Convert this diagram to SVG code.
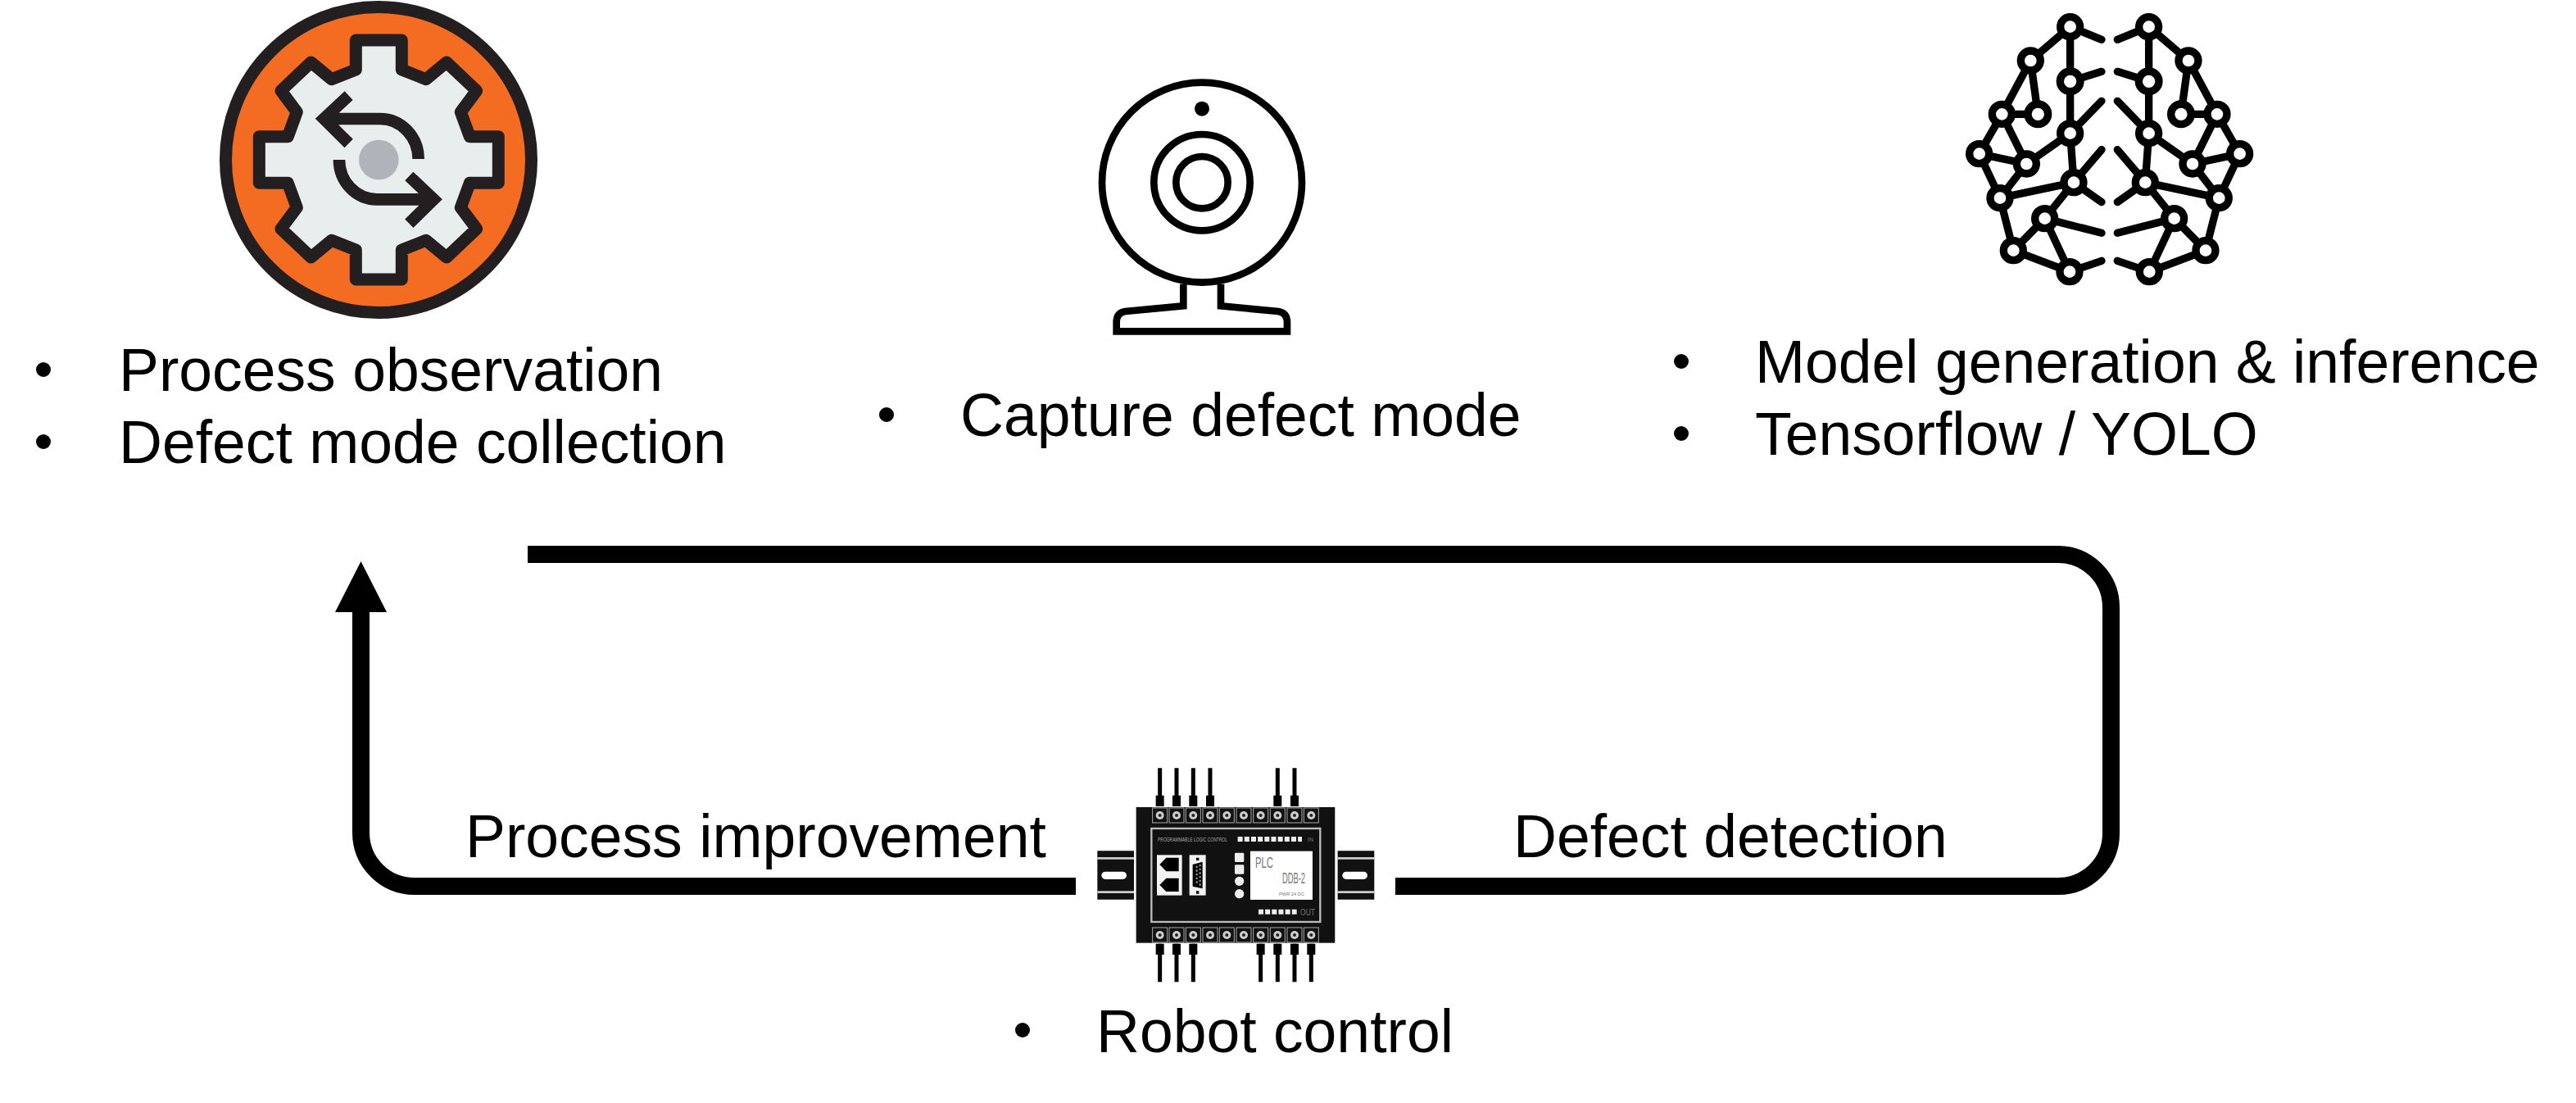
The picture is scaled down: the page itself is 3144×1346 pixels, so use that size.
<svg xmlns="http://www.w3.org/2000/svg" width="3144" height="1346" viewBox="0 0 3144 1346">
<style>
text{font-family:"Liberation Sans",Arial,sans-serif;font-size:73.300px;fill:#000}
.d{stroke:#231F20;stroke-width:45;stroke-linejoin:round;fill:#E8EDED}
.a{fill:none;stroke:#231F20;stroke-width:44}
.b line{stroke:#000;stroke-width:28;stroke-linecap:round}
.n{fill:#fff;stroke:#000;stroke-width:28}
.c{fill:none;stroke:#000;stroke-width:26}
.k{fill:#fff}
.t{fill:#000}
.w{fill:none;stroke:#000;stroke-width:15}
.p{fill:#f2f2f2}
.ln{fill:none;stroke:#000;stroke-width:21}
text.m{font-size:18px;fill:#777}
</style>
<defs>
<g id="half">
<g class="b">
<line x1="470" y1="98" x2="325" y2="222"/><line x1="470" y1="98" x2="585" y2="145"/><line x1="470" y1="98" x2="470" y2="298"/><line x1="470" y1="298" x2="585" y2="262"/><line x1="470" y1="298" x2="470" y2="488"/><line x1="470" y1="488" x2="585" y2="370"/><line x1="470" y1="488" x2="483" y2="668"/><line x1="470" y1="488" x2="310" y2="600"/><line x1="483" y1="668" x2="585" y2="548"/><line x1="483" y1="668" x2="585" y2="740"/><line x1="483" y1="668" x2="213" y2="725"/><line x1="483" y1="668" x2="377" y2="800"/><line x1="377" y1="800" x2="585" y2="853"/><line x1="377" y1="800" x2="262" y2="917"/><line x1="377" y1="800" x2="468" y2="995"/><line x1="262" y1="917" x2="468" y2="995"/><line x1="468" y1="995" x2="585" y2="955"/><line x1="325" y1="222" x2="220" y2="418"/><line x1="325" y1="222" x2="352" y2="418"/><line x1="220" y1="418" x2="352" y2="418"/><line x1="220" y1="418" x2="137" y2="563"/><line x1="220" y1="418" x2="310" y2="600"/><line x1="137" y1="563" x2="310" y2="600"/><line x1="137" y1="563" x2="213" y2="725"/><line x1="310" y1="600" x2="213" y2="725"/><line x1="213" y1="725" x2="262" y2="917"/>
</g>
<circle class="n" cx="470" cy="98" r="36"/><circle class="n" cx="325" cy="222" r="36"/><circle class="n" cx="470" cy="298" r="37"/><circle class="n" cx="220" cy="418" r="36"/><circle class="n" cx="352" cy="418" r="37"/><circle class="n" cx="470" cy="488" r="36"/><circle class="n" cx="137" cy="563" r="36"/><circle class="n" cx="310" cy="600" r="36"/><circle class="n" cx="483" cy="668" r="36"/><circle class="n" cx="213" cy="725" r="36"/><circle class="n" cx="377" cy="800" r="36"/><circle class="n" cx="262" cy="917" r="36"/><circle class="n" cx="468" cy="995" r="36"/>
</g>
<g id="screw"><rect x="-27" y="-27" width="54" height="54" fill="none" stroke="#aaa" stroke-width="3"/><circle r="15" fill="#ccc"/><circle r="6" fill="#222"/></g>
</defs>
<g id="connectors">
<path class="ln" d="M644 676.500H2512A64.500 64.500 0 0 1 2576.500 741V1017A64.500 64.500 0 0 1 2512 1081.500H1703"/>
<path class="ln" d="M1313 1081.500H506A65.500 65.500 0 0 1 440.500 1016V740"/>
<path d="M440.500 685L472 747H409Z" class="t"/>
<text x="568" y="1046">Process improvement</text>
<text x="1847" y="1046">Defect detection</text>
</g>
<g id="process-node">
<circle cx="462" cy="195" r="186.500" fill="#F36C21" stroke="#231F20" stroke-width="15"/>
<g transform="translate(240 0) scale(.3333)">
<g transform="translate(667 585)"><path class="d" d="M-84-438H84V-330L173-295L248-357L358-253L300-175L333-85H438V85H333L300 175L358 253L248 357L173 295L84 330V438H-84V330L-173 295L-248 357L-358 253L-300 175L-333 85H-438V-85H-333L-300-175L-358-253L-248-357L-173-295L-84-330Z"/></g>
<circle cx="667" cy="585" r="73" fill="#AEB4B9"/>
<path class="a" d="M557 350L466 435L557 525M466 435H672A140 147 0 0 1 812 582"/>
<path class="a" d="M778 645L868 730L778 818M868 730H660A138 145 0 0 1 522 585"/>
</g>
<text x="145" y="477">Process observation</text>
<text x="145" y="565">Defect mode collection</text>
<circle class="t" cx="53" cy="451" r="9"/><circle class="t" cx="53" cy="539" r="9"/>
</g>
<g id="camera-node">
<g transform="translate(1310 80) scale(.3333)">
<circle class="c" cx="471" cy="428" r="366"/><circle class="c" cx="471" cy="428" r="176"/><circle class="c" cx="471" cy="428" r="95"/>
<circle class="t" cx="471" cy="158" r="27"/>
<path class="c" d="M403 800V880L190 900Q158 905 158 940V973H783V940Q783 905 750 900L540 880V800"/>
</g>
<text x="1172" y="532">Capture defect mode</text>
<circle class="t" cx="1082" cy="506" r="9"/>
</g>
<g id="model-node">
<g transform="translate(2370 0) scale(.3333)">
<use href="#half"/>
<use href="#half" transform="translate(1228 0) scale(-1 1)"/>
</g>
<text x="2142" y="467">Model generation &amp; inference</text>
<text x="2142" y="555">Tensorflow / YOLO</text>
<circle class="t" cx="2052" cy="441" r="9"/><circle class="t" cx="2052" cy="529" r="9"/>
</g>
<g id="robot-node">
<g transform="translate(1290 900) scale(.3333)">
<path class="w" d="M377 112V250M438 112V250M499 112V250M561 112V250M808 112V250M870 112V250M377 755V895M438 755V895M499 755V895M746 755V895M808 755V895M870 755V895M931 755V895"/>
<path class="t" d="M362 212h30v40h-30zM423 212h30v40h-30zM484 212h30v40h-30zM546 212h30v40h-30zM793 212h30v40h-30zM855 212h30v40h-30zM362 755h30v40h-30zM423 755h30v40h-30zM484 755h30v40h-30zM731 755h30v40h-30zM793 755h30v40h-30zM855 755h30v40h-30zM916 755h30v40h-30z"/>
<rect x="290" y="255" width="728" height="497" fill="#111"/>
<path fill="#111" d="M148 415H282V593H148ZM1028 415H1162V593H1028Z"/>
<path d="M148 442H282M148 566H282M1028 442H1162M1028 566H1162" stroke="#ccc" stroke-width="8"/>
<rect x="163" y="491" width="92" height="28" rx="14" class="k"/><rect x="1045" y="491" width="92" height="28" rx="14" class="k"/>
<rect x="346" y="333" width="618" height="342" fill="none" stroke="#bbb" stroke-width="7"/>
<use href="#screw" x="377" y="285"/><use href="#screw" x="438" y="285"/><use href="#screw" x="499" y="285"/><use href="#screw" x="561" y="285"/><use href="#screw" x="622" y="285"/><use href="#screw" x="684" y="285"/><use href="#screw" x="746" y="285"/><use href="#screw" x="808" y="285"/><use href="#screw" x="870" y="285"/><use href="#screw" x="931" y="285"/>
<use href="#screw" x="377" y="723"/><use href="#screw" x="438" y="723"/><use href="#screw" x="499" y="723"/><use href="#screw" x="561" y="723"/><use href="#screw" x="622" y="723"/><use href="#screw" x="684" y="723"/><use href="#screw" x="746" y="723"/><use href="#screw" x="808" y="723"/><use href="#screw" x="870" y="723"/><use href="#screw" x="931" y="723"/>
<rect x="366" y="430" width="92" height="148" class="p"/>
<path class="t" d="M376 465L400 440H446V490H400ZM376 540L400 515H446V564H400Z"/>
<rect x="485" y="430" width="60" height="148" class="p"/>
<path class="t" d="M497 465L533 455V553L497 545ZM510 440h10v10h-10zM510 562h10v10h-10z"/>
<path d="M512 470V540M524 465V545" stroke="#999" stroke-width="6" stroke-dasharray="7 7"/>
<path d="M662 372H897" stroke="#eee" stroke-width="18" stroke-dasharray="18 6.500"/>
<path d="M738 638H878" stroke="#eee" stroke-width="18" stroke-dasharray="18 6.500"/>
<rect x="708" y="416" width="228" height="178" class="k"/>
<rect x="651" y="422" width="34" height="34" rx="4" fill="#eee"/><rect x="651" y="466" width="34" height="34" rx="4" fill="#eee"/><circle cx="668" cy="526" r="17" fill="#eee"/><circle cx="668" cy="572" r="17" fill="#eee"/>
</g>
<text class="m" x="1532" y="1059" textLength="22" lengthAdjust="spacingAndGlyphs">PLC</text>
<text class="m" x="1565" y="1078" textLength="28" lengthAdjust="spacingAndGlyphs">DDB-2</text>
<text class="m" x="1587" y="1117" textLength="18" lengthAdjust="spacingAndGlyphs" style="font-size:10px">OUT</text>
<text class="m" x="1413" y="1027" textLength="85" lengthAdjust="spacingAndGlyphs" style="font-size:6.500px;fill:#aaa">PROGRAMMABLE LOGIC CONTROL</text>
<text class="m" x="1596" y="1027" textLength="7" lengthAdjust="spacingAndGlyphs" style="font-size:7px">IN</text>
<text class="m" x="1561" y="1093" textLength="31" lengthAdjust="spacingAndGlyphs" style="font-size:6px">PWR 24 DC</text>
</g>
<g id="robot-label">
<text x="1338" y="1284">Robot control</text>
<circle class="t" cx="1248" cy="1257" r="9"/>
</g>
</svg>
